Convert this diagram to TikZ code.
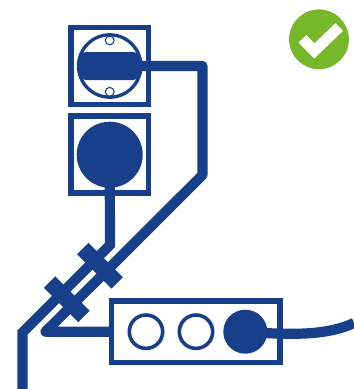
\documentclass[tikz,border=0pt]{standalone}
\usepackage{xcolor}
\usetikzlibrary{positioning}
\definecolor{cableblue}{HTML}{173F8A}
\definecolor{okgreen}{HTML}{76B82A}

\begin{document}
\begin{tikzpicture}[
    x=1pt, y=-1pt,
    frame/.style={draw=cableblue, line width=5.8pt, fill=white, inner sep=0pt, outer sep=0pt},
    socket/.style={frame, minimum width=77.5pt, minimum height=77pt},
    strip/.style={frame, minimum width=168.5pt, minimum height=61.5pt},
    ring/.style={circle, draw=cableblue, fill=white, inner sep=0pt, outer sep=0pt},
    dot/.style={circle, fill=cableblue, inner sep=0pt, outer sep=0pt},
    clamp/.style={fill=cableblue, rotate=-45, minimum width=48.6pt, minimum height=16pt, inner sep=0pt, outer sep=0pt},
    wire/.style={draw=cableblue, line width=10.2pt},
]
\useasboundingbox (0,0) rectangle (354,389);

\node[socket] (top) at (109.7,66) {};
\node[socket] (low) [below=11.7pt of top] {};
\node[strip] (bar) at (195.7,331.7) {};

% wire bends
\coordinate (bendA) at (202.5,66);
\coordinate (bendB) at (202.5,175);
\coordinate (tip) at (45.5,331.7);
\coordinate (bendC) at (110,245);
\coordinate (bendD) at (22.5,332.5);
\coordinate (endD) at (22.5,389);
\coordinate (endE) at (354,323);

% cables
\draw[wire, line join=round] (top.center) -- (bendA) -- (bendB) -- (tip) -- (bar.west);
\draw[wire] (low.center) -- (bendC) -- (bendD) -- (endD);

% sockets
\node[ring, line width=3.3pt, minimum size=62.4pt] (face) at (top.center) {};
\node[ring, line width=1.1pt, minimum size=8.8pt] (pinA) at (109.7,40.4) {};
\node[ring, line width=1.1pt, minimum size=8.8pt] (pinB) at (109.7,91.8) {};
\node[fill=cableblue, rounded corners=9pt, minimum width=64pt, minimum height=28pt, inner sep=0pt] (plug) at (face.center) {};
\node[dot, minimum size=66pt] (lowplug) at (low.center) {};

% strip outlets
\node[ring, line width=3.6pt, minimum size=33.4pt] (outA) at (146,331.7) {};
\node[ring, line width=3.6pt, minimum size=33.4pt] (outB) at (196,331.7) {};
\node[dot, minimum size=44pt] (outC) at (245.3,331.7) {};
\draw[wire] (outC.center) .. controls (300,336) and (330,334) .. (endE);

% clamps
\node[clamp] (clampA) at (100,265.8) {};
\node[clamp] (clampB) at (66.7,299.2) {};

% check mark
\node[dot, fill=okgreen, minimum size=59.8pt] (badge) at (319,39.3) {};
\coordinate (chkA) at (302.5,38.8);
\coordinate (chkB) at (314.3,51);
\coordinate (chkC) at (339.2,27);
\draw[white, line width=10.8pt, miter limit=10] (chkA) -- (chkB) -- (chkC);
\end{tikzpicture}
\end{document}
